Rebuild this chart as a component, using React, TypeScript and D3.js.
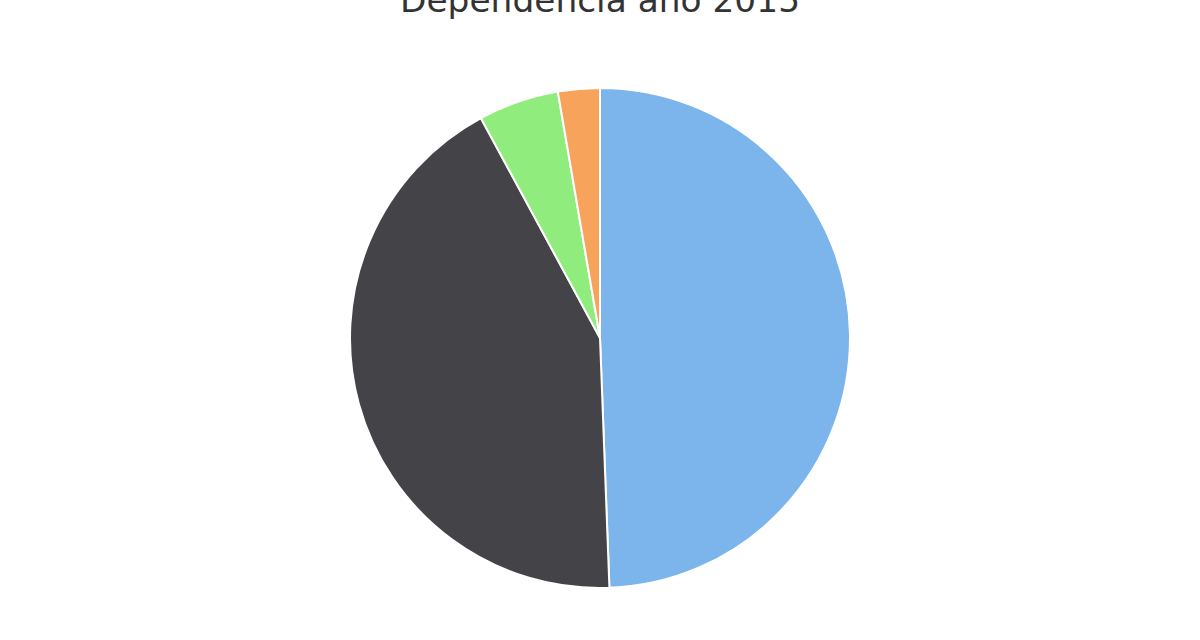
import { arc, pie } from "d3";

const categories = ["Municipal", "Particular Subvencionado", "Particular Pagado", "Otro"];
const values = [49.4, 42.7, 5.2, 2.7];
const colors = ["#7cb5ec", "#434348", "#90ed7d", "#f7a35c"];

const width = 1200;
const height = 640;
const cx = 600;
const cy = 338;
const radius = 250;

const App = () => {
  const slices = pie<number>().sort(null).value((d) => d)(values);
  const slicePath = arc<any>().innerRadius(0).outerRadius(radius);

  return (
    <svg width={width} height={height} style={{ position: "absolute", left: 0, top: 0 }}>
      <rect width={width} height={height} fill="#ffffff" />
      <text
        x={cx}
        y={12}
        textAnchor="middle"
        fontFamily="DejaVu Sans"
        fontSize={34.4}
        fill="#333333"
      >
        Dependencia año 2015
      </text>
      <g transform={`translate(${cx},${cy})`}>
        {slices.map((s, i) => (
          <path key={categories[i]} d={slicePath(s)!} fill={colors[i]} stroke="#ffffff" strokeWidth={2} strokeLinejoin="round" />
        ))}
      </g>
    </svg>
  );
};

export default App;
